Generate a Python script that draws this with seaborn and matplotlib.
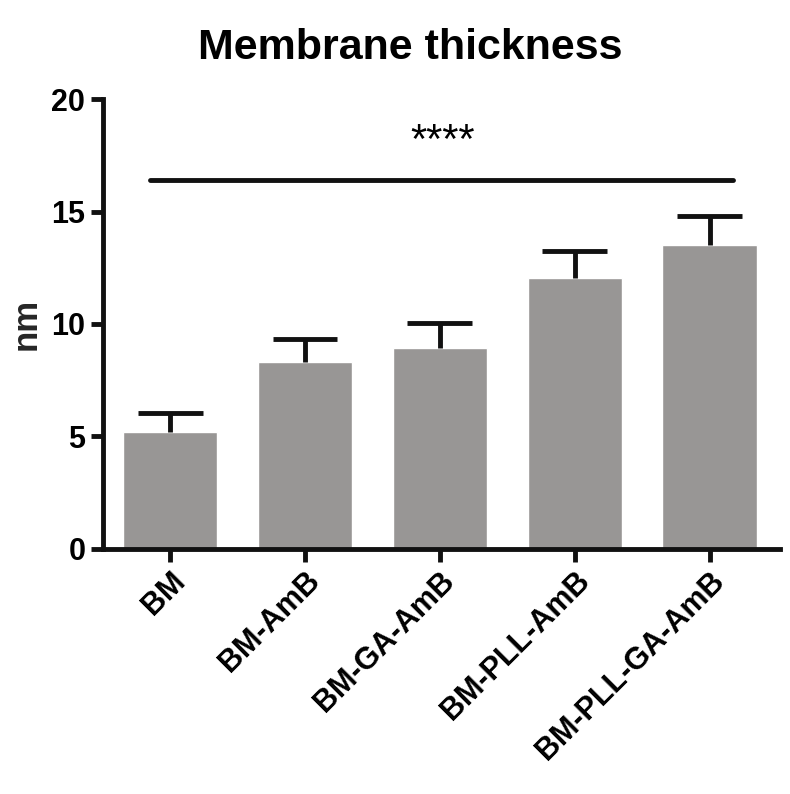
import numpy as np
import pandas as pd
import matplotlib
matplotlib.use('Agg')
import matplotlib.pyplot as plt
import seaborn as sns

groups = ['BM', 'BM-AmB', 'BM-GA-AmB', 'BM-PLL-AmB', 'BM-PLL-GA-AmB']
means = [5.2, 8.3, 8.95, 12.05, 13.5]
sem = [0.85, 1.05, 1.1, 1.2, 1.3]
sig_y = 16.4
sig_label = '****'

sns.set_style('ticks')
plt.rcParams['font.family'] = ['Liberation Sans', 'DejaVu Sans']
plt.rcParams['font.weight'] = 'bold'
plt.rcParams['text.color'] = 'black'
plt.rcParams['xtick.color'] = '#111111'
plt.rcParams['ytick.color'] = '#111111'
plt.rcParams['xtick.labelcolor'] = 'black'
plt.rcParams['ytick.labelcolor'] = 'black'

df = pd.DataFrame({'group': groups, 'nm': means})

fig = plt.figure(figsize=(7.9, 7.94), dpi=100)
ax = fig.add_axes([0.130, 0.309, 0.857, 0.566])

sns.barplot(x='group', y='nm', data=df, color='#989695', saturation=1,
            width=0.7, errorbar=None, ax=ax)
x = np.arange(len(groups))
tops = np.array(means) + np.array(sem)
# upper error bars only (stem + cap)
ax.vlines(x, means, tops, color='#111111', lw=3.5)
ax.hlines(tops, x - 0.24, x + 0.24, color='#111111', lw=3.5)

# significance bar
ax.plot([x[0] - 0.15, x[-1] + 0.17], [sig_y, sig_y], color='#111111', lw=3.5)
ax.text(2.02, sig_y + 1.7, sig_label, ha='center', va='center', fontsize=30,
        fontweight='normal')

ax.set_xlim(-0.5, 4.52)
ax.set_ylim(0, 20)
ax.set_yticks([0, 5, 10, 15, 20])
ax.set_xlabel('')
ax.set_ylabel('nm', fontsize=25, fontweight='bold')
ax.yaxis.set_label_coords(-0.088, 0.5)
fig.text(0.519, 0.94, 'Membrane thickness', ha='center', va='center',
         fontsize=31, fontweight='bold')

for s in ['top', 'right']:
    ax.spines[s].set_visible(False)
for s in ['left', 'bottom']:
    ax.spines[s].set_linewidth(3.5)
    ax.spines[s].set_color('#111111')
ax.tick_params(width=3.5, length=9, labelsize=22)
plt.setp(ax.get_xticklabels(), rotation=45, ha='right', rotation_mode='anchor',
         fontweight='bold')
plt.setp(ax.get_yticklabels(), fontweight='bold')

fig.savefig('out.png', dpi=100, facecolor='white')
